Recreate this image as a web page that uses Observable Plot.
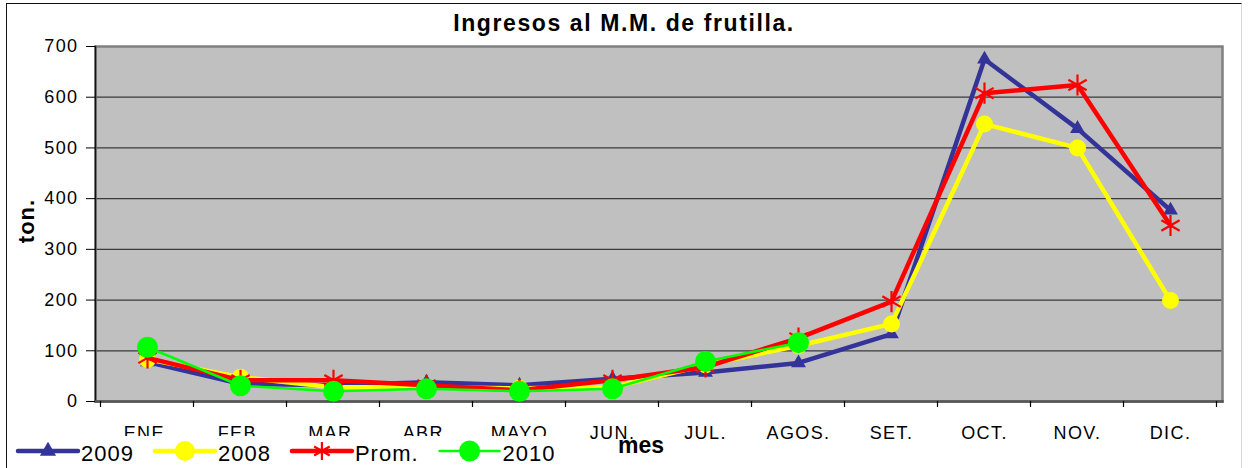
<!DOCTYPE html>
<html>
<head>
<meta charset="utf-8">
<script src="https://cdn.jsdelivr.net/npm/d3@7"></script>
<script src="https://cdn.jsdelivr.net/npm/@observablehq/plot@0.6"></script>
<style>
  html, body { margin: 0; padding: 0; background: #fff; }
  #wrap { position: relative; width: 1248px; height: 468px; overflow: hidden; font-family: "Liberation Sans", Arial, sans-serif; }
  #border { position: absolute; left: 6px; top: 3px; width: 1236px; height: 480px; border-left: 1.5px solid #111; border-top: 1.5px solid #111; border-right: 1px solid #d8d8d8; box-sizing: border-box; }
  #chart { position: absolute; left: 0; top: 0; }
  #overlay { position: absolute; left: 0; top: 0; pointer-events: none; }
</style>
</head>
<body>
<div id="wrap">
  <div id="border"></div>
  <div id="chart"></div>
  <svg id="overlay" width="1248" height="468"></svg>
</div>
<script>
// ---- data ----
const months = ["ENE.", "FEB.", "MAR.", "ABR.", "MAYO", "JUN.", "JUL.", "AGOS.", "SET.", "OCT.", "NOV.", "DIC."];
const serie2009 = [78, 35, 32, 38, 32, 45, 57, 76, 133, 675, 538, 377];
const serie2008 = [83, 48, 28, 28, 26, 28, 72, 110, 153, 547, 500, 199];
const seriePromedio = [86, 42, 42, 32, 22, 42, 68, 125, 197, 608, 624, 347];
const serie2010 = [107, 31, 20, 25, 20, 25, 79, 116, null, null, null, null];
const seriesNames = ["2009", "2008", "Prom.", "2010"];
const yTicks = [0, 100, 200, 300, 400, 500, 600, 700];
const titleText = "Ingresos al M.M. de frutilla.";
const yLabel = "ton.";
const xLabel = "mes";

// ---- styles ----
const seriesValues = [serie2009, serie2008, seriePromedio, serie2010];
const seriesStyles = [
  {color: "#333399", width: 4.5, symbol: "triangle", r: 5.5, filled: true, legendR: 6},
  {color: "#FFFF00", width: 4.5, symbol: "circle", r: 8.5, filled: true, legendR: 10},
  {color: "#FF0000", width: 4.5, symbol: "asterisk", r: 10, filled: false, legendR: 8.5},
  {color: "#00FF00", width: 2.5, symbol: "circle", r: 10.5, filled: true, legendR: 10.5}
];

const rows = seriesNames.flatMap((name, k) =>
  months.map((m, i) => ({mes: m, serie: name, valor: seriesValues[k][i]})));

const W = 1248, H = 468;
const mL = 95, mR = 26, mT = 46, mB = 67;

// boundary ticks between categories (Excel style), derived from the x scale
function categoryTicks(index, scales, values, dimensions) {
  const x = scales.x;
  const pos = months.map(m => x(m));
  const step = pos[1] - pos[0];
  const bounds = pos.map(p => p - step / 2).concat([pos[pos.length - 1] + step / 2]);
  const y0 = dimensions.height - dimensions.marginBottom;
  const g = d3.create("svg:g");
  g.selectAll("line").data(bounds).join("line")
    .attr("x1", d => d).attr("x2", d => d)
    .attr("y1", y0).attr("y2", y0 + 6)
    .attr("stroke", "#000").attr("stroke-width", 1.2);
  return g.node();
}

const seriesMarks = seriesNames.flatMap((name, k) => {
  const st = seriesStyles[k];
  const data = rows.filter(d => d.serie === name && d.valor != null);
  return [
    Plot.line(data, {x: "mes", y: "valor", stroke: st.color, strokeWidth: st.width, strokeLinejoin: "miter"}),
    Plot.dot(data, st.filled
      ? {x: "mes", y: "valor", symbol: st.symbol, r: st.r, fill: st.color, stroke: "none"}
      : {x: "mes", y: "valor", symbol: st.symbol, r: st.r, fill: "none", stroke: st.color, strokeWidth: 2.2})
  ];
});

const chart = Plot.plot({
  width: W, height: H,
  marginLeft: mL, marginRight: mR, marginTop: mT, marginBottom: mB,
  style: {fontFamily: "'Liberation Sans', Arial, sans-serif", color: "#000", background: "transparent", letterSpacing: "1.4px", overflow: "visible"},
  x: {type: "point", domain: months, padding: 0.5, label: null},
  y: {domain: [0, 700], label: null},
  marks: [
    Plot.frame({fill: "#C0C0C0"}),
    Plot.gridY(yTicks.filter(t => t > 0 && t < 700), {stroke: "#3a3a3a", strokeOpacity: 1, strokeWidth: 1.3}),
    Plot.frame({stroke: "#808080", strokeWidth: 2.5}),
    Plot.frame({anchor: "left", stroke: "#111", strokeWidth: 1.5}),
    Plot.frame({anchor: "bottom", stroke: "#555", strokeWidth: 2.5}),
    Plot.axisY({ticks: yTicks, tickSize: 9, tickPadding: 8, fontSize: 18, stroke: "#000", tickFormat: d => String(d)}),
    Plot.axisX({tickSize: 0, tickPadding: 25, fontSize: 18}),
    categoryTicks,
    ...seriesMarks
  ]
});
document.getElementById("chart").appendChild(chart);

// ---- overlay: title, axis labels, legend ----
const ov = d3.select("#overlay");
const ff = "'Liberation Sans', Arial, sans-serif";

ov.append("text").attr("x", 624).attr("y", 31).attr("text-anchor", "middle")
  .attr("font-family", ff).attr("font-weight", "bold").attr("font-size", 23)
  .attr("letter-spacing", "1.6px").text(titleText);

ov.append("text").attr("transform", "translate(34,221) rotate(-90)").attr("text-anchor", "middle")
  .attr("font-family", ff).attr("font-weight", "bold").attr("font-size", 22)
  .attr("letter-spacing", "1px").text(yLabel);

ov.append("text").attr("x", 618).attr("y", 453)
  .attr("font-family", ff).attr("font-weight", "bold").attr("font-size", 23)
  .text(xLabel);

// legend box covers bottom of tick labels like the original
ov.append("rect").attr("x", 8).attr("y", 436).attr("width", 558).attr("height", 40).attr("fill", "#fff");

let lx = 18;
const ly = 451;
seriesNames.forEach((name, k) => {
  const st = seriesStyles[k];
  const g = ov.append("g");
  g.append("line").attr("x1", lx).attr("x2", lx + 60).attr("y1", ly).attr("y2", ly)
    .attr("stroke", st.color).attr("stroke-width", st.width).attr("stroke-linecap", "round");
  const sym = {triangle: d3.symbolTriangle, circle: d3.symbolCircle, asterisk: d3.symbolAsterisk}[st.symbol];
  const path = d3.symbol(sym, Math.PI * st.legendR * st.legendR)();
  const p = g.append("path").attr("d", path).attr("transform", `translate(${lx + 30},${ly})`);
  if (st.filled) p.attr("fill", st.color);
  else p.attr("fill", "none").attr("stroke", st.color).attr("stroke-width", 2.2);
  const t = g.append("text").attr("x", lx + 63).attr("y", 461)
    .attr("font-family", ff).attr("font-size", 22).attr("letter-spacing", "1px").text(name);
  const tw = t.node().getComputedTextLength();
  lx = lx + 63 + tw + 21;
});
</script>
</body>
</html>
